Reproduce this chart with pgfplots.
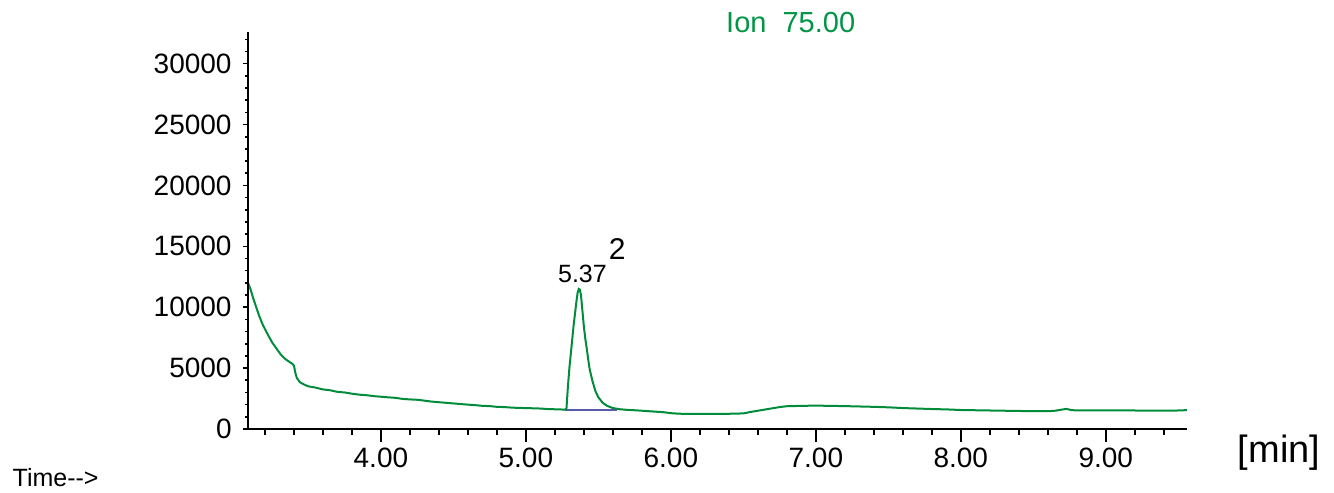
\documentclass[border=0pt]{standalone}
\usepackage{fontspec}
\setmainfont{Liberation Sans}
\usepackage{pgfplots}
\pgfplotsset{compat=1.18}
\definecolor{trace}{RGB}{0,140,58}
\definecolor{iontxt}{RGB}{0,150,70}
\definecolor{basel}{RGB}{90,90,170}

\pgfplotstableread{
t v
3.083 12000
3.10 11500
3.12 10700
3.14 10000
3.16 9300
3.18 8700
3.20 8200
3.22 7750
3.25 7100
3.28 6600
3.31 6100
3.34 5750
3.37 5500
3.39 5350
3.40 5200
3.41 4600
3.42 4200
3.44 3850
3.47 3650
3.50 3500
3.55 3400
3.60 3250
3.65 3180
3.70 3050
3.75 3000
3.80 2900
3.85 2820
3.90 2780
3.95 2700
4.00 2650
4.05 2600
4.10 2560
4.15 2470
4.20 2430
4.25 2400
4.30 2330
4.35 2250
4.40 2200
4.45 2150
4.50 2100
4.55 2050
4.60 2000
4.65 1960
4.70 1900
4.75 1880
4.80 1820
4.85 1800
4.90 1760
4.95 1730
5.00 1720
5.05 1700
5.10 1680
5.15 1640
5.20 1620
5.25 1600
5.27 1580
5.28 1700
5.29 3500
5.30 5000
5.315 6800
5.33 8600
5.34 9600
5.35 10600
5.357 11200
5.365 11500
5.372 11450
5.38 11000
5.39 9700
5.40 8400
5.41 7400
5.42 6600
5.43 5700
5.44 4900
5.46 3900
5.48 3100
5.50 2600
5.53 2150
5.56 1900
5.60 1720
5.65 1620
5.70 1570
5.75 1540
5.80 1500
5.85 1460
5.90 1420
5.95 1380
6.00 1300
6.05 1260
6.10 1240
6.20 1240
6.30 1240
6.40 1250
6.50 1280
6.55 1400
6.60 1500
6.65 1600
6.70 1700
6.75 1800
6.80 1870
6.90 1900
7.00 1920
7.10 1900
7.20 1880
7.30 1850
7.40 1820
7.50 1780
7.60 1720
7.70 1680
7.80 1640
7.90 1610
8.00 1560
8.10 1540
8.20 1520
8.30 1500
8.40 1480
8.50 1470
8.60 1460
8.65 1500
8.70 1600
8.73 1650
8.76 1560
8.80 1520
8.90 1530
9.00 1520
9.10 1530
9.20 1520
9.30 1500
9.40 1510
9.50 1520
9.56 1550
}\ionseventyfive

\begin{document}
\begin{tikzpicture}
% x axis + data
\begin{axis}[
  scale only axis,
  width=469.5pt, height=198.5pt,
  xmin=3.083, xmax=9.56,
  ymin=0, ymax=32600,
  hide y axis,
  axis x line=bottom,
  x axis line style={-, line width=1pt, shorten <=-2.5pt},
  xtick={4,5,6,7,8,9},
  xticklabels={4.00,5.00,6.00,7.00,8.00,9.00},
  minor xtick={3.2,3.4,3.6,3.8,4.2,4.4,4.6,4.8,5.2,5.4,5.6,5.8,6.2,6.4,6.6,6.8,7.2,7.4,7.6,7.8,8.2,8.4,8.6,8.8,9.2,9.4},
  tick align=outside,
  major tick length=6.5pt,
  minor tick length=3pt,
  xtick style={black, line width=0.8pt},
  xticklabel style={font=\fontsize{14}{15}\selectfont, inner sep=0pt, yshift=-3pt},
  clip=false,
]
\path (rel axis cs:-0.2641,-0.1587) rectangle (rel axis cs:1.1566,1.0806);
\addplot[basel, line width=1pt] coordinates {(5.27,1530) (5.63,1530)};
\addplot[trace, line width=1pt] table[x=t, y=v] {\ionseventyfive};
\node[iontxt, font=\fontsize{14.5}{15}\selectfont] at (rel axis cs:0.578,1.025) {Ion\ \ 75.00};
\node[font=\fontsize{12.5}{13}\selectfont, anchor=center] at (axis cs:5.39,12700) {5.37};
\node[font=\fontsize{15}{16}\selectfont, anchor=center] at (axis cs:5.63,14800) {2};
\node[font=\fontsize{19}{20}\selectfont] at (rel axis cs:1.098,-0.059) {[min]};
\node[font=\fontsize{12.5}{13}\selectfont, anchor=base west, inner sep=0pt] at (rel axis cs:-0.251,-0.146) {Time{-}{-}>};
\end{axis}
% y axis
\begin{axis}[
  scale only axis,
  width=469.5pt, height=198.5pt,
  xmin=3.083, xmax=9.56,
  ymin=0, ymax=32600,
  hide x axis,
  axis y line=left,
  y axis line style={-, line width=1pt},
  ytick={0,5000,10000,15000,20000,25000,30000},
  minor ytick={1000,2000,...,32000},
  scaled y ticks=false,
  tick align=outside,
  major tick length=2.5pt,
  minor tick length=1.5pt,
  ytick style={black, line width=0.8pt},
  yticklabel style={font=\fontsize{14}{15}\selectfont, inner sep=0pt, xshift=-5.5pt},
  /pgf/number format/1000 sep={},
  /pgf/number format/assume math mode=true,
]
\end{axis}
\end{tikzpicture}
\end{document}
